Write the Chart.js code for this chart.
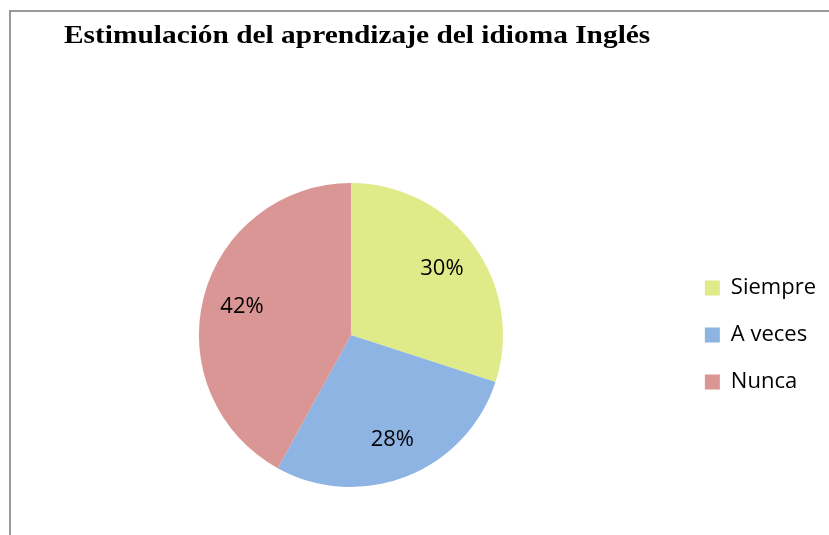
<!DOCTYPE html>
<html>
<head>
<meta charset="utf-8">
<script src="https://cdn.jsdelivr.net/npm/chart.js@4"></script>
<style>
    html, body { margin: 0; padding: 0; background: #fff; overflow: hidden; }
    #frame {
        position: absolute; left: 9px; top: 10px; width: 900px; height: 600px;
        border-left: 2px solid #999; border-top: 2px solid #999;
    }
    #title {
        position: absolute; left: 64px; top: 20px; margin: 0;
        font: bold 26px "Liberation Serif", "Times New Roman", serif;
        color: #000; white-space: nowrap;
        transform: scaleX(1.13); transform-origin: left top;
    }
    #wrap { position: absolute; left: 0; top: 0; width: 829px; height: 535px; }
</style>
</head>
<body>
<div id="frame"></div>
<div id="wrap"><canvas id="pieChart"></canvas></div>
<h1 id="title">Estimulación del aprendizaje del idioma Inglés</h1>
<script>
// Data
const categories = ['Siempre', 'A veces', 'Nunca'];
const percentages = [30, 28, 42];
const sliceColors = ['#DFEB88', '#8EB4E3', '#D99694'];

// percent labels inside each slice
const sliceLabels = {
    id: 'sliceLabels',
    afterDatasetsDraw(chart) {
        const ctx = chart.ctx;
        const meta = chart.getDatasetMeta(0);
        ctx.save();
        ctx.font = '22px "Open Sans"';
        ctx.fillStyle = '#000';
        ctx.textAlign = 'center';
        ctx.textBaseline = 'middle';
        meta.data.forEach((arc, i) => {
            const p = arc.getProps(['x', 'y', 'startAngle', 'endAngle', 'outerRadius'], true);
            const mid = (p.startAngle + p.endAngle) / 2;
            const r = p.outerRadius * 0.74;
            ctx.fillText(percentages[i] + '%', p.x + Math.cos(mid) * r, p.y + Math.sin(mid) * r);
        });
        ctx.restore();
    }
};

const ctx = document.getElementById('pieChart').getContext('2d');
new Chart(ctx, {
    type: 'pie',
    data: {
        labels: categories,
        datasets: [{
            data: percentages,
            backgroundColor: sliceColors,
            borderWidth: 0
        }]
    },
    options: {
        responsive: true,
        maintainAspectRatio: false,
        animation: false,
        layout: { padding: { left: 22, right: 3, top: 183, bottom: 48 } },
        plugins: {
            legend: {
                position: 'right',
                labels: {
                    boxWidth: 15,
                    boxHeight: 15,
                    padding: 25,
                    color: '#000',
                    font: { family: 'Open Sans', size: 22 }
                }
            },
            tooltip: { enabled: false }
        }
    },
    plugins: [sliceLabels]
});
</script>
</body>
</html>
